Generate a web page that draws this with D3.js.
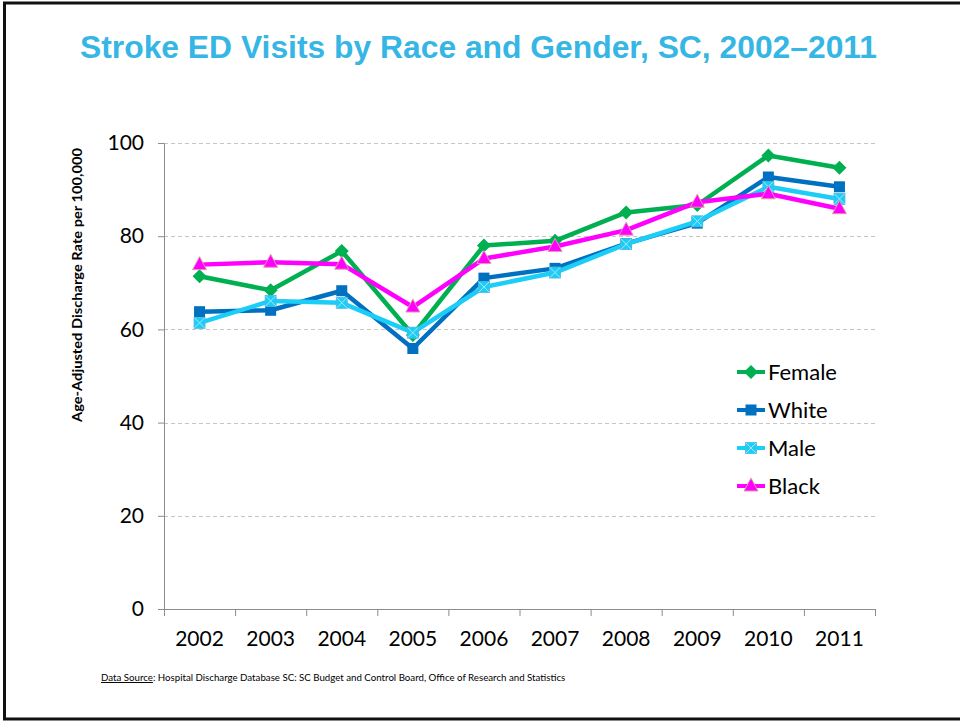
<!DOCTYPE html>
<html>
<head>
<meta charset="utf-8">
<script src="https://cdn.jsdelivr.net/npm/d3@7"></script>
<style>
  body { margin: 0; background: #fff; }
  svg { display: block; }
</style>
</head>
<body>
<div id="chart"></div>
<script>
// Data
const years = ["2002", "2003", "2004", "2005", "2006", "2007", "2008", "2009", "2010", "2011"];
const female = [71.4, 68.4, 76.8, 58.8, 78.0, 79.0, 85.1, 86.7, 97.3, 94.7];
const white = [63.8, 64.1, 68.3, 55.9, 71.0, 73.1, 78.4, 82.8, 92.7, 90.6];
const male = [61.4, 66.1, 65.7, 59.3, 69.1, 72.2, 78.3, 83.2, 90.6, 88.0];
const black = [73.9, 74.4, 74.0, 64.8, 75.2, 77.8, 81.3, 87.3, 89.1, 85.9];
const yTicks = [0, 20, 40, 60, 80, 100];

const seriesNames = ["Female", "White", "Male", "Black"];
const seriesValues = [female, white, male, black];
const seriesColors = ["#00b050", "#0070c0", "#1ccdf7", "#ff00ff"];
const seriesMarkers = ["diamond", "square", "squarex", "triangle"];

const W = 960, H = 721;
const margin = { top: 143, right: 85, bottom: 112, left: 164 };
const width = W - margin.left - margin.right;
const height = H - margin.top - margin.bottom;

const svg = d3.select("#chart").append("svg")
    .attr("width", W)
    .attr("height", H);

// slide frame
svg.append("rect")
    .attr("x", 4.5).attr("y", 3)
    .attr("width", W + 10).attr("height", 716)
    .attr("fill", "none")
    .attr("stroke", "#111")
    .attr("stroke-width", 3);

// title (narrow bold face in the original, so squeeze to its width)
svg.append("text")
    .attr("x", 80).attr("y", 58)
    .attr("textLength", 797)
    .attr("lengthAdjust", "spacingAndGlyphs")
    .style("font-family", "'Liberation Sans', Arial, sans-serif")
    .style("font-weight", "bold")
    .style("font-size", "31px")
    .style("fill", "#36b6e4")
    .text("Stroke ED Visits by Race and Gender, SC, 2002\u20132011");

const g = svg.append("g")
    .attr("transform", `translate(${margin.left},${margin.top})`);

const x = d3.scaleBand().domain(years).range([0, width]);
const y = d3.scaleLinear().domain([0, 100]).range([height, 0]);

// dashed gridlines
g.append("g")
    .selectAll("line")
    .data(yTicks.filter(d => d > 0))
    .join("line")
    .attr("x1", 0).attr("x2", width)
    .attr("y1", d => Math.round(y(d)) + 0.5)
    .attr("y2", d => Math.round(y(d)) + 0.5)
    .attr("stroke", "#c6c6c6")
    .attr("stroke-dasharray", "4,3");

// y axis
const yAxis = g.append("g")
    .call(d3.axisLeft(y).tickValues(yTicks).tickSize(6).tickPadding(14));
yAxis.select(".domain").attr("stroke", "#8c8c8c");
yAxis.selectAll(".tick line").attr("stroke", "#8c8c8c");
yAxis.selectAll("text")
    .style("font-family", "Lato, 'Open Sans', sans-serif")
    .style("font-size", "21px")
    .style("fill", "#000");

// x axis, ticks sit between categories
const xAxis = g.append("g")
    .attr("transform", `translate(0,${height})`)
    .call(d3.axisBottom(x).tickSize(0).tickPadding(22));
xAxis.select(".domain").attr("stroke", "#8c8c8c");
xAxis.selectAll("text")
    .style("font-family", "Lato, 'Open Sans', sans-serif")
    .style("font-size", "21px")
    .style("fill", "#000");
xAxis.append("g")
    .selectAll("line")
    .data(years.concat(["end"]))
    .join("line")
    .attr("x1", (d, i) => i * x.step() + 0.5)
    .attr("x2", (d, i) => i * x.step() + 0.5)
    .attr("y1", 0).attr("y2", 7)
    .attr("stroke", "#8c8c8c");

// y axis title
svg.append("text")
    .attr("transform", "translate(82,285) rotate(-90)")
    .attr("text-anchor", "middle")
    .attr("textLength", 274)
    .attr("lengthAdjust", "spacingAndGlyphs")
    .style("font-family", "Lato, 'Open Sans', sans-serif")
    .style("font-weight", "bold")
    .style("font-size", "14px")
    .style("fill", "#000")
    .text("Age-Adjusted Discharge Rate per 100,000");

// marker drawing
function drawMarker(sel, type, color) {
    if (type === "diamond") {
        sel.append("path")
            .attr("d", "M0,-7L7,0L0,7L-7,0Z")
            .attr("fill", color);
    } else if (type === "square") {
        sel.append("rect")
            .attr("x", -5.5).attr("y", -5.5)
            .attr("width", 11).attr("height", 11)
            .attr("fill", color);
    } else if (type === "squarex") {
        sel.append("rect")
            .attr("x", -5.5).attr("y", -5.5)
            .attr("width", 11).attr("height", 11)
            .attr("fill", color)
            .attr("stroke", "#4fb8e0")
            .attr("stroke-width", 0.8);
        sel.append("path")
            .attr("d", "M-5,-5L5,5M5,-5L-5,5")
            .attr("stroke", "#a8e6f7")
            .attr("stroke-width", 1);
    } else {
        sel.append("path")
            .attr("d", "M0,-8L7,5L-7,5Z")
            .attr("fill", color)
            .attr("stroke", "#e39aa8")
            .attr("stroke-width", 1);
    }
}

const line = d3.line()
    .x((d, i) => x(years[i]) + x.bandwidth() / 2)
    .y(d => y(d));

seriesValues.forEach((vals, s) => {
    const sg = g.append("g");
    sg.append("path")
        .datum(vals)
        .attr("d", line)
        .attr("fill", "none")
        .attr("stroke", seriesColors[s])
        .attr("stroke-width", 4.5)
        .attr("stroke-linejoin", "round");
    sg.selectAll("g.pt")
        .data(vals)
        .join("g")
        .attr("class", "pt")
        .attr("transform", (d, i) => `translate(${x(years[i]) + x.bandwidth() / 2},${y(d)})`)
        .each(function () { drawMarker(d3.select(this), seriesMarkers[s], seriesColors[s]); });
});

// legend
const legend = svg.append("g").attr("transform", "translate(737,372)");
seriesNames.forEach((name, s) => {
    const lg = legend.append("g").attr("transform", `translate(0,${s * 38})`);
    lg.append("line")
        .attr("x1", 0).attr("x2", 28)
        .attr("stroke", seriesColors[s])
        .attr("stroke-width", 4);
    const m = lg.append("g").attr("transform", "translate(14,0)");
    drawMarker(m, seriesMarkers[s], seriesColors[s]);
    lg.append("text")
        .attr("x", 31).attr("dy", "0.35em")
        .style("font-family", "Lato, 'Open Sans', sans-serif")
        .style("font-size", "22px")
        .style("fill", "#000")
        .text(name);
});

// footer source note
const foot = svg.append("text")
    .attr("x", 101).attr("y", 681)
    .style("font-family", "Lato, 'Open Sans', sans-serif")
    .style("font-size", "9.7px")
    .style("fill", "#000");
foot.append("tspan")
    .style("text-decoration", "underline")
    .text("Data Source");
foot.append("tspan")
    .text(": Hospital Discharge Database SC: SC Budget and Control Board, Office of Research and Statistics");
</script>
</body>
</html>
